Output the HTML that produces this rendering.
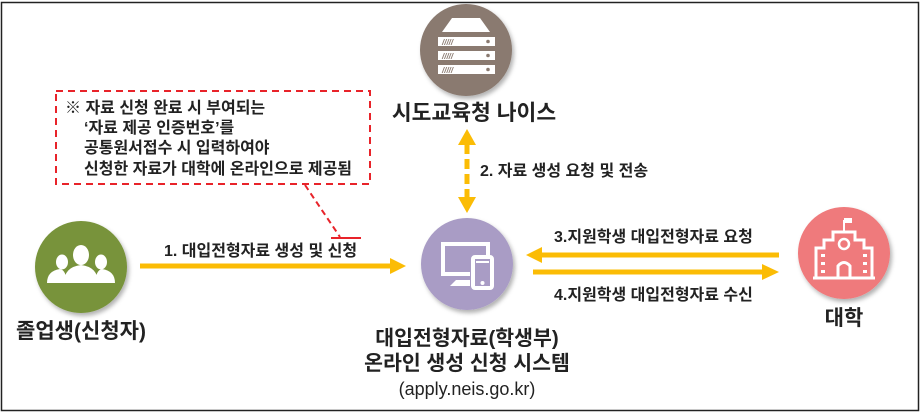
<!DOCTYPE html>
<html><head><meta charset="utf-8"><style>
body{margin:0;background:#fff;width:921px;height:414px;overflow:hidden;}
svg text{font-family:"Liberation Sans","Noto Sans CJK KR","NanumGothic",sans-serif;fill:#222;}
</style></head><body>
<svg width="921" height="414" viewBox="0 0 921 414" xmlns="http://www.w3.org/2000/svg">
<defs>
<filter id="sh" x="-20%" y="-20%" width="150%" height="150%"><feDropShadow dx="2" dy="3" stdDeviation="2" flood-color="#000" flood-opacity="0.3"/></filter>
</defs>
<rect x="1.5" y="2.5" width="917" height="408" fill="none" stroke="#222" stroke-width="1.5"/>

<!-- dashed note -->
<rect x="56" y="91" width="314" height="93" fill="none" stroke="#e8232a" stroke-width="2" stroke-dasharray="7,5"/>
<text font-size="16" font-weight="bold"><tspan x="65" y="113">※ 자료 신청 완료 시 부여되는</tspan><tspan x="84" y="133">‘자료 제공 인증번호’를</tspan><tspan x="84" y="153">공통원서접수 시 입력하여야</tspan><tspan x="84" y="174">신청한 자료가 대학에 온라인으로 제공됨</tspan></text>
<line x1="305" y1="185" x2="340" y2="237" stroke="#e8232a" stroke-width="2" stroke-dasharray="6,4"/>
<line x1="331" y1="238" x2="361" y2="238" stroke="#e8232a" stroke-width="2"/>

<!-- green circle -->
<circle cx="81" cy="267" r="46" fill="#78933a" filter="url(#sh)"/>
<g fill="#fff">
<ellipse cx="81" cy="255" rx="8" ry="10"/><path d="M64 283 q0-16 17-18 q17 2 17 18z"/>
<ellipse cx="62" cy="262" rx="6" ry="7.5"/><path d="M47 283 q0-12 13-14 q6 1 7 14z"/>
<ellipse cx="101" cy="262" rx="6" ry="7.5"/><path d="M95 283 q1-13 7-14 q13 2 13 14z"/>
</g>
<text x="81" y="338" font-size="21" font-weight="bold" text-anchor="middle">졸업생(신청자)</text>

<!-- arrow 1 -->
<line x1="140" y1="266" x2="392" y2="266" stroke="#fbbc05" stroke-width="5"/>
<polygon points="390,258 406,266 390,274" fill="#fbbc05"/>
<text x="164" y="256" font-size="16" font-weight="bold">1. 대입전형자료 생성 및 신청</text>

<!-- brown server -->
<circle cx="466" cy="50" r="46" fill="#8a7a70" filter="url(#sh)"/>
<g fill="#fff">
<polygon points="452,18 480,18 490,32 442,32"/>
<rect x="438" y="37" width="57" height="9"/><rect x="438" y="51" width="57" height="9"/><rect x="438" y="65" width="57" height="9"/>
</g>
<g fill="#8a7a70"><circle cx="488" cy="41.5" r="1.8"/><circle cx="488" cy="55.5" r="1.8"/><circle cx="488" cy="69.5" r="1.8"/>
<text x="442" y="45" font-size="8" font-style="italic" font-weight="bold" style="fill:#8a7a70">/////</text>
<text x="442" y="59" font-size="8" font-style="italic" font-weight="bold" style="fill:#8a7a70">/////</text>
<text x="442" y="73" font-size="8" font-style="italic" font-weight="bold" style="fill:#8a7a70">/////</text></g>
<text x="474" y="120" font-size="21.5" font-weight="bold" text-anchor="middle">시도교육청 나이스</text>

<!-- vertical dashed arrow -->
<polygon points="458,145 467,129 476,145" fill="#fbbc05"/>
<polygon points="458,197 467,213 476,197" fill="#fbbc05"/>
<line x1="467" y1="144" x2="467" y2="198" stroke="#fbbc05" stroke-width="5" stroke-dasharray="10,5"/>
<text x="480" y="176" font-size="16" font-weight="bold">2. 자료 생성 요청 및 전송</text>

<!-- purple -->
<circle cx="467" cy="264" r="46" fill="#a99cc5" filter="url(#sh)"/>
<g fill="none" stroke="#fff" stroke-width="4">
<path d="M488 256 V244 H443 V274 H470"/>
<rect x="473" y="257" width="19" height="31" rx="2"/>
</g>
<g fill="#fff"><line x1="476" y1="262" x2="489" y2="262" stroke="#fff" stroke-width="2"/><circle cx="482.5" cy="283" r="2"/><polygon points="450,286 456,280 470,280 470,286"/></g>
<text x="467" y="345" font-size="20.5" font-weight="bold" text-anchor="middle">대입전형자료(학생부)</text>
<text x="467" y="370" font-size="20.5" font-weight="bold" text-anchor="middle">온라인 생성 신청 시스템</text>
<text x="467" y="395" font-size="18" text-anchor="middle">(apply.neis.go.kr)</text>

<!-- arrows 3,4 -->
<line x1="540" y1="255" x2="779" y2="255" stroke="#fbbc05" stroke-width="5"/>
<polygon points="542,247 526,255 542,263" fill="#fbbc05"/>
<line x1="533" y1="272" x2="764" y2="272" stroke="#fbbc05" stroke-width="5"/>
<polygon points="762,264 779,272 762,280" fill="#fbbc05"/>
<text x="554" y="242" font-size="16" font-weight="bold">3.지원학생 대입전형자료 요청</text>
<text x="554" y="300" font-size="16" font-weight="bold">4.지원학생 대입전형자료 수신</text>

<!-- pink college -->
<circle cx="844" cy="253" r="46" fill="#ef7a7b" filter="url(#sh)"/>
<g fill="none" stroke="#fff" stroke-width="3">
<path d="M816 278 V248 H824 V240 H833 V232 H855 V240 H864 V248 H872 V278"/>
<line x1="813" y1="278" x2="875" y2="278"/>
<circle cx="844" cy="244" r="5" stroke-width="2.5"/>
<path d="M838 278 V266 q6-7 12 0 V278"/>
<line x1="844" y1="232" x2="844" y2="220" stroke-width="2"/>
</g>
<rect x="844" y="218" width="8" height="5" fill="#fff"/>
<g fill="#fff"><rect x="821" y="254" width="4" height="3"/><rect x="821" y="262" width="4" height="3"/><rect x="821" y="270" width="4" height="3"/>
<rect x="863" y="254" width="4" height="3"/><rect x="863" y="262" width="4" height="3"/><rect x="863" y="270" width="4" height="3"/></g>
<text x="844" y="325" font-size="21" font-weight="bold" text-anchor="middle">대학</text>
</svg>
</body></html>
